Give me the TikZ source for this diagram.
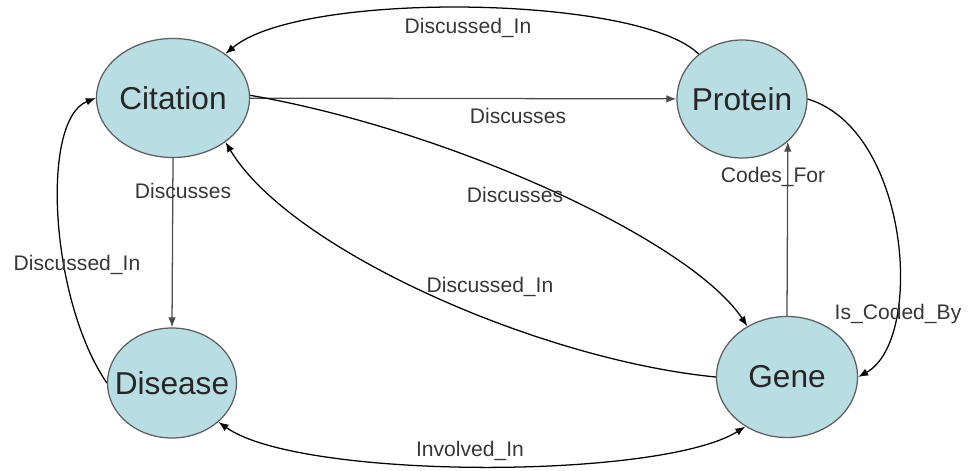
\documentclass[tikz,border=0pt]{standalone}
\usepackage{fontspec}
\setmainfont{Liberation Sans}
\usepackage{xcolor}
\usetikzlibrary{arrows.meta,shapes.geometric}
\definecolor{entfill}{RGB}{184,222,228}
\definecolor{entline}{RGB}{95,95,95}
\definecolor{reltext}{RGB}{55,55,55}
\newcommand{\ctr}[1]{\makebox[0pt]{#1}}

\begin{document}
\begin{tikzpicture}[x=0.025cm, y=-0.025cm,
  entity/.style={ellipse, draw=entline, line width=0.9pt, fill=entfill,
    inner sep=0pt, font=\fontsize{22.5}{27}\selectfont, text=black!85},
  relname/.style={font=\fontsize{15}{18}\selectfont, text=reltext, inner sep=1pt},
  link/.style={draw=black, line width=0.9pt, -{Latex[length=2.5mm,width=1.9mm]}},
  straight/.style={link, draw=black!70},
]
\useasboundingbox (0,0) rectangle (970,471);

% --- Entities ---
\node[entity, minimum width=3.825cm, minimum height=2.975cm] (cit) at (173,98) {\ctr{Citation}};
\node[entity, minimum width=3.25cm, minimum height=2.95cm] (prot) at (742,99) {\ctr{Protein}};
\node[entity, minimum width=3.225cm, minimum height=2.75cm] (dis) at (172,383) {\ctr{Disease}};
\node[entity, minimum width=3.525cm, minimum height=3.025cm] (gene) at (787,377) {\ctr{Gene}};

% --- Relations ---
\draw[link] (prot.134) .. controls (640,-5) and (300,-10) .. (cit.40);
\node[relname] (r1) at (468,28) {Discussed\_In};

\draw[straight] (cit) -- (prot);
\node[relname] (r2) at (518,116) {Discusses};

\draw[link] (cit.2) .. controls (450,130) and (690,240) .. (gene.128);
\node[relname] (r3) at (515,195) {Discusses};

\draw[link] (gene.west) .. controls (540,360) and (290,250) .. (cit.-40);
\node[relname] (r4) at (490,287) {Discussed\_In};

\draw[straight] (cit.south) -- (dis.north);
\node[relname] (r5) at (183,191) {Discusses};

\draw[link] (dis.west) .. controls (50,300) and (40,120) .. (cit.west);
\node[relname] (r6) at (77,265) {Discussed\_In};

\draw[straight] (gene.north) -- (prot.-43.4);
\node[relname] (r7) at (773,177) {Codes\_For};

\draw[link] (prot.east) .. controls (910,130) and (925,340) .. (gene.east);
\node[relname] (r8) at (898,314) {Is\_Coded\_By};

\draw[link, {Latex[length=2.5mm,width=1.9mm]}-{Latex[length=2.5mm,width=1.9mm]}]
  (dis.-40) .. controls (300,480) and (660,480) .. (gene.-130);
\node[relname] (r9) at (470,451) {Involved\_In};
\end{tikzpicture}
\end{document}
